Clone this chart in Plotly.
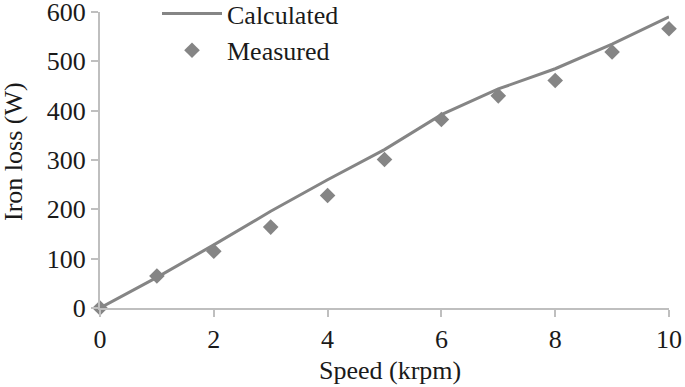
import plotly.graph_objects as go

speed = [0, 1, 2, 3, 4, 5, 6, 7, 8, 9, 10]
calculated = [0, 62, 128, 196, 260, 321, 392, 444, 485, 535, 590]
measured = [0, 65, 115, 164, 228, 301, 382, 430, 461, 519, 566]
x_ticks = [0, 2, 4, 6, 8, 10]
y_ticks = [0, 100, 200, 300, 400, 500, 600]
x_title = "Speed (krpm)"
y_title = "Iron loss (W)"

font = "Times New Roman, Liberation Serif, Tinos, DejaVu Serif, serif"
gray = "#858585"
axis_gray = "#bfbfbf"

W, H = 685, 387
L, R, T, B = 100, 16, 12, 79
pw, ph = W - L - R, H - T - B

fig = go.Figure()
fig.add_trace(go.Scatter(x=speed, y=calculated, mode="lines", name="Calculated",
                         line=dict(color=gray, width=3), cliponaxis=False))
fig.add_trace(go.Scatter(x=speed, y=measured, mode="markers", name="Measured",
                         marker=dict(symbol="diamond", size=12, color=gray), cliponaxis=False))

axis_common = dict(showgrid=False, zeroline=False, showline=True,
                   linecolor=axis_gray, linewidth=2, ticks="outside", ticklen=7,
                   tickcolor=axis_gray, tickwidth=2, ticklabeloverflow="allow",
                   automargin=False, tickfont=dict(family=font, size=26))

fig.update_layout(
    width=W, height=H,
    margin=dict(l=L, r=R, t=T, b=B, autoexpand=False),
    paper_bgcolor="white", plot_bgcolor="white",
    font=dict(family=font, size=26, color="#1a1a1a"),
    showlegend=True,
    legend=dict(x=(157 - L) / pw, y=1 + 22 / ph, xanchor="left", yanchor="top",
                bgcolor="rgba(0,0,0,0)", font=dict(family=font, size=26),
                tracegroupgap=0, itemwidth=60),
    xaxis=dict(range=[0, 10], tickvals=x_ticks, **axis_common),
    yaxis=dict(range=[0, 600], tickvals=y_ticks, **axis_common),
    annotations=[
        dict(text=x_title, xref="paper", yref="paper", x=(390 - L) / pw,
             y=-(370 - T - ph) / ph, xanchor="center", yanchor="middle",
             showarrow=False, font=dict(family=font, size=26)),
        dict(text=y_title, xref="paper", yref="paper", x=-(L - 13) / pw,
             y=(H - B - 152) / ph, xanchor="center", yanchor="middle",
             textangle=-90, showarrow=False, font=dict(family=font, size=26)),
    ],
)

fig.write_html(
    "out.html",
    config={"displayModeBar": False},
    post_script="document.body.style.margin='0';document.body.style.overflow='hidden';",
)
